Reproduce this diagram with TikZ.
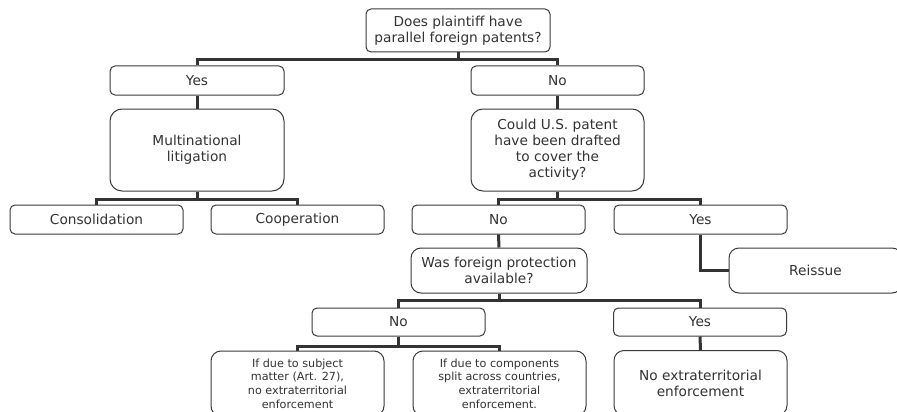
\documentclass[tikz,border=0pt]{standalone}
\usepackage{fontspec}
\setmainfont{DejaVu Sans}
\definecolor{ink}{HTML}{333333}
\definecolor{edge}{HTML}{3A3A3A}
\tikzset{
  box/.style={draw=edge, line width=1pt, fill=white, rounded corners=5pt, inner sep=0pt,
    align=center, text=ink, font=\fontsize{13.7}{16}\selectfont},
  bigbox/.style={box, rounded corners=12pt},
  smallbox/.style={box, rounded corners=10pt, font=\fontsize{11.2}{13.7}\selectfont},
  link/.style={draw=ink, line width=3pt}
}
\begin{document}
\begin{tikzpicture}[x=1pt,y=-1pt]
\clip (0,0) rectangle (897,412);
\useasboundingbox (0,0) rectangle (897,412);
% connectors first
\node[box, minimum width=184pt, minimum height=43pt] (top) at (458,30.5) {Does plaintiff have\\parallel foreign patents?};
\node[box, minimum width=174pt, minimum height=29pt] (yes1) at (197,80.5) {Yes};
\node[box, minimum width=173pt, minimum height=29pt] (no1) at (557.5,80.5) {No};
\node[bigbox, minimum width=174pt, minimum height=82pt] (multi) at (197,150) {Multinational\\litigation};
\node[bigbox, minimum width=173pt, minimum height=82pt] (could) at (557.5,150) {Could U.S. patent\\have been drafted\\to cover the\\activity?};
\node[box, minimum width=173pt, minimum height=29pt] (cons) at (96.5,219.5) {Consolidation};
\node[box, minimum width=173pt, minimum height=29pt] (coop) at (297.5,219.5) {Cooperation};
\node[box, minimum width=173pt, minimum height=29pt] (no2) at (498.5,219.5) {No};
\node[box, minimum width=173pt, minimum height=29pt] (yes2) at (700.5,219.5) {Yes};
\node[bigbox, rounded corners=10pt, minimum width=173pt, minimum height=45pt] (reissue) at (815.5,270.5) {Reissue};
\node[bigbox, rounded corners=10pt, minimum width=176pt, minimum height=45pt] (was) at (499,270.5) {Was foreign protection\\available?};
\node[box, minimum width=173pt, minimum height=28pt] (no3) at (398.5,322) {No};
\node[box, minimum width=173pt, minimum height=28pt] (yes3) at (700,322) {Yes};
\node[smallbox, minimum width=173pt, minimum height=65pt] (subj) at (297.5,383.5) {If due to subject\\matter (Art. 27),\\no extraterritorial\\enforcement};
\node[smallbox, minimum width=173pt, minimum height=65pt] (comp) at (499.5,383.5) {If due to components\\split across countries,\\extraterritorial\\enforcement.};
\node[bigbox, rounded corners=10pt, minimum width=173pt, minimum height=65pt] (noext) at (700.5,383) {No extraterritorial\\enforcement};

\begin{scope}[on background layer/.try]
\end{scope}
\path[link] (top.south) -- ++(0,7) -| (yes1.north);
\path[link] (top.south) -- ++(0,7) -| (no1.north);
\path[link] (yes1.south) -- (multi.north);
\path[link] (no1.south) -- (could.north);
\path[link] (multi.south) -- ++(0,7.5) -| (cons.north);
\path[link] (multi.south) -- ++(0,7.5) -| (coop.north);
\path[link] (could.south) -- ++(0,7.5) -| (no2.north);
\path[link] (could.south) -- ++(0,7.5) -| (yes2.north);
\path[link] (yes2.south) |- (reissue.west);
\path[link] (no2.south) -- (was.north);
\path[link] (was.south) -- ++(0,7) -| (no3.north);
\path[link] (was.south) -- ++(0,7) -| (yes3.north);
\path[link] (no3.south) -- ++(0,10) -| (subj.north);
\path[link] (no3.south) -- ++(0,10) -| (comp.north);
\path[link] (yes3.south) -- (noext.north);
\end{tikzpicture}
\end{document}
